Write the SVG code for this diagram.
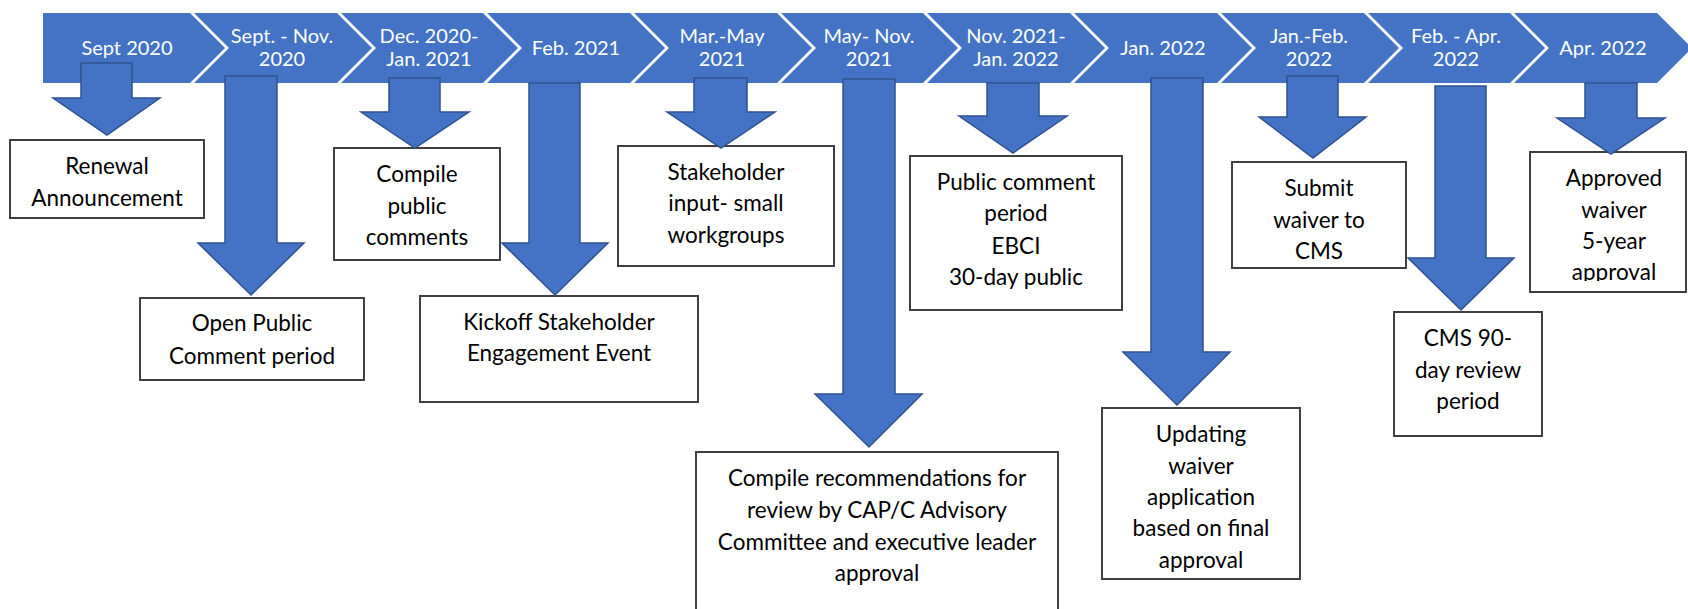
<svg xmlns="http://www.w3.org/2000/svg" width="1688" height="609" viewBox="0 0 1688 609">
<defs>
<style>
.seg{fill:#4472C4;stroke:none}
.lbl{font-family:Lato,"Liberation Sans",sans-serif;font-size:20px;fill:#fff;text-anchor:middle}
.arr{fill:#4472C4;stroke:#2F528F;stroke-width:1.5;stroke-linejoin:miter}
.box{fill:#fff;stroke:#404040;stroke-width:2}
.txt{font-family:Lato,"Liberation Sans",sans-serif;font-size:22.5px;fill:#000;text-anchor:middle}
</style>
<clipPath id="clipApproved"><rect x="1530" y="152" width="158" height="129"/></clipPath>
</defs>
<rect width="1688" height="609" fill="#fff"/>

<g id="timeline">
<g id="seg-0"><polygon class="seg" points="43,13 190,13 225,48 190,83 43,83"/><text class="lbl" x="127" y="55">Sept 2020</text></g>
<g id="seg-1"><polygon class="seg" points="194,13 337,13 372,48 337,83 194,83 229,48"/><text class="lbl" x="282" y="43">Sept. - Nov.</text><text class="lbl" x="282" y="66">2020</text></g>
<g id="seg-2"><polygon class="seg" points="341,13 483,13 518,48 483,83 341,83 376,48"/><text class="lbl" x="429" y="43">Dec. 2020-</text><text class="lbl" x="429" y="66">Jan. 2021</text></g>
<g id="seg-3"><polygon class="seg" points="487,13 630,13 665,48 630,83 487,83 522,48"/><text class="lbl" x="576" y="55">Feb. 2021</text></g>
<g id="seg-4"><polygon class="seg" points="634,13 777,13 812,48 777,83 634,83 669,48"/><text class="lbl" x="722" y="43">Mar.-May</text><text class="lbl" x="722" y="66">2021</text></g>
<g id="seg-5"><polygon class="seg" points="781,13 923,13 958,48 923,83 781,83 816,48"/><text class="lbl" x="869" y="43">May- Nov.</text><text class="lbl" x="869" y="66">2021</text></g>
<g id="seg-6"><polygon class="seg" points="927,13 1070,13 1105,48 1070,83 927,83 962,48"/><text class="lbl" x="1016" y="43">Nov. 2021-</text><text class="lbl" x="1016" y="66">Jan. 2022</text></g>
<g id="seg-7"><polygon class="seg" points="1074,13 1217,13 1252,48 1217,83 1074,83 1109,48"/><text class="lbl" x="1163" y="55">Jan. 2022</text></g>
<g id="seg-8"><polygon class="seg" points="1221,13 1364,13 1399,48 1364,83 1221,83 1256,48"/><text class="lbl" x="1309" y="43">Jan.-Feb.</text><text class="lbl" x="1309" y="66">2022</text></g>
<g id="seg-9"><polygon class="seg" points="1368,13 1510,13 1545,48 1510,83 1368,83 1403,48"/><text class="lbl" x="1456" y="43">Feb. - Apr.</text><text class="lbl" x="1456" y="66">2022</text></g>
<g id="seg-10"><polygon class="seg" points="1514,13 1657,13 1692,48 1657,83 1514,83 1549,48"/><text class="lbl" x="1603" y="55">Apr. 2022</text></g>
</g>

<g id="box-renewal"><rect class="box" x="10" y="140" width="194" height="78"/><text class="txt" x="107" y="174">Renewal</text><text class="txt" x="107" y="206">Announcement</text></g>
<g id="box-open"><rect class="box" x="140" y="298" width="224" height="82"/><text class="txt" x="252" y="331">Open Public</text><text class="txt" x="252" y="364">Comment period</text></g>
<g id="box-compile"><rect class="box" x="334" y="148" width="166" height="112"/><text class="txt" x="417" y="182">Compile</text><text class="txt" x="417" y="214">public</text><text class="txt" x="417" y="245">comments</text></g>
<g id="box-kickoff"><rect class="box" x="420" y="296" width="278" height="106"/><text class="txt" x="559" y="330">Kickoff Stakeholder</text><text class="txt" x="559" y="361">Engagement Event</text></g>
<g id="box-stakeholder"><rect class="box" x="618" y="146" width="216" height="120"/><text class="txt" x="726" y="180">Stakeholder</text><text class="txt" x="726" y="211">input- small</text><text class="txt" x="726" y="243">workgroups</text></g>
<g id="box-recommend"><rect class="box" x="696" y="452" width="362" height="170"/><text class="txt" x="877" y="486">Compile recommendations for</text><text class="txt" x="877" y="518">review by CAP/C Advisory</text><text class="txt" x="877" y="550">Committee and executive leader</text><text class="txt" x="877" y="581">approval</text></g>
<g id="box-public"><rect class="box" x="910" y="156" width="212" height="154"/><text class="txt" x="1016" y="190">Public comment</text><text class="txt" x="1016" y="221">period</text><text class="txt" x="1016" y="254">EBCI</text><text class="txt" x="1016" y="285">30-day public</text></g>
<g id="box-updating"><rect class="box" x="1102" y="408" width="198" height="171"/><text class="txt" x="1201" y="442">Updating</text><text class="txt" x="1201" y="474">waiver</text><text class="txt" x="1201" y="505">application</text><text class="txt" x="1201" y="536">based on final</text><text class="txt" x="1201" y="568">approval</text></g>
<g id="box-submit"><rect class="box" x="1232" y="162" width="174" height="106"/><text class="txt" x="1319" y="196">Submit</text><text class="txt" x="1319" y="228">waiver to</text><text class="txt" x="1319" y="259">CMS</text></g>
<g id="box-cms"><rect class="box" x="1394" y="312" width="148" height="124"/><text class="txt" x="1468" y="346">CMS 90-</text><text class="txt" x="1468" y="378">day review</text><text class="txt" x="1468" y="409">period</text></g>
<g id="box-approved"><rect class="box" x="1530" y="152" width="156" height="140"/><g clip-path="url(#clipApproved)"><text class="txt" x="1614" y="186">Approved</text><text class="txt" x="1614" y="218">waiver</text><text class="txt" x="1614" y="249">5-year</text><text class="txt" x="1614" y="280">approval</text></g></g>

<g id="connectors">
<polygon class="arr" points="81,63 132,63 132,98 160,98 107,135 53,98 81,98"/>
<polygon class="arr" points="225,76 277,76 277,243 304,243 251,295 198,243 225,243"/>
<polygon class="arr" points="389,78 440,78 440,112 469,112 415,148 361,112 389,112"/>
<polygon class="arr" points="529,83 580,83 580,243 608,243 555,295 502,243 529,243"/>
<polygon class="arr" points="694,78 747,78 747,112 775,112 721,148 667,112 694,112"/>
<polygon class="arr" points="843,79 895,79 895,394 922,394 869,447 815,394 843,394"/>
<polygon class="arr" points="987,83 1039,83 1039,116 1067,116 1013,153 959,116 987,116"/>
<polygon class="arr" points="1151,78 1203,78 1203,352 1230,352 1177,405 1123,352 1151,352"/>
<polygon class="arr" points="1287,76 1338,76 1338,117 1366,117 1313,158 1259,117 1287,117"/>
<polygon class="arr" points="1435,86 1486,86 1486,258 1514,258 1461,310 1408,258 1435,258"/>
<polygon class="arr" points="1585,83 1637,83 1637,118 1665,118 1611,154 1557,118 1585,118"/>
</g>
</svg>
